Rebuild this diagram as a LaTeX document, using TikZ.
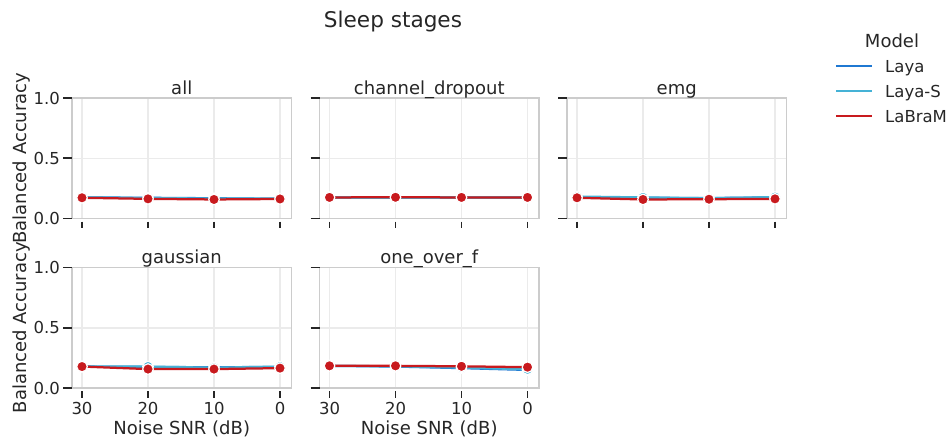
\documentclass[tikz,border=0pt]{standalone}
\usepackage{fontspec}
\setmainfont{DejaVu Sans}
\usepackage{xcolor}
\definecolor{ink}{HTML}{262626}
\definecolor{layablue}{HTML}{1F78D2}
\definecolor{layasblue}{HTML}{45B2D6}
\definecolor{labramred}{HTML}{C81A1E}
\definecolor{framegray}{HTML}{CCCCCC}
\definecolor{gridgray}{HTML}{EBEBEB}
\tikzset{
    panel-frame/.style = {draw=framegray, line width=1.9pt},
    grid-line/.style = {draw=gridgray, line width=1.5pt},
    tick-mark/.style = {draw=ink, line width=1.9pt},
    tick-label/.style = {text=ink, font=\fontsize{16.5}{18}\selectfont, inner sep=0pt},
    axis-label/.style = {text=ink, font=\fontsize{18}{20}\selectfont, inner sep=0pt},
    series/.style = {draw=#1, line width=2.25pt, line join=round},
    dot/.style = {fill=#1, draw=white, line width=1.2pt},
}
% one facet: #1 name, #2 left, #3 top, #4 title
\newcommand{\snrpanel}[4]{%
    \foreach \k in {0,...,3}
        \draw[grid-line] (#2+10+66*\k,#3) -- (#2+10+66*\k,#3+120.5);
    \draw[grid-line] (#2,#3+60.25) -- (#2+219.5,#3+60.25);
    \draw[panel-frame] (#2,#3) rectangle (#2+219.5,#3+120.5);
    \foreach \k in {0,...,3}
        \draw[tick-mark] (#2+10+66*\k,#3+123.5) -- (#2+10+66*\k,#3+130);
    \foreach \v in {0,0.5,1}
        \draw[tick-mark] (#2-9,{#3+120.5*(1-\v)}) -- (#2,{#3+120.5*(1-\v)});
    \node[axis-label, anchor=base] (#1-title) at (#2+109.75,#3-4) {#4};
}
% one model: #1 left, #2 top, #3 colour, #4-#7 values at 30, 20, 10, 0 dB
\newcommand{\snrline}[7]{%
    \draw[series=#3] (#1+10,{#2+120.5*(1-#4)}) -- (#1+76,{#2+120.5*(1-#5)})
        -- (#1+142,{#2+120.5*(1-#6)}) -- (#1+208,{#2+120.5*(1-#7)});
    \foreach \v [count=\k from 0] in {#4,#5,#6,#7}
        \path[dot=#3] (#1+10+66*\k,{#2+120.5*(1-\v)}) circle[radius=5.3pt];
}

\begin{document}
\begin{tikzpicture}[x=1pt, y=-1pt]
\useasboundingbox (0,0) rectangle (952,444);

\node[axis-label, font=\fontsize{21.6}{24}\selectfont, anchor=base] (suptitle) at (393,27.3) {Sleep stages};

% facets
\snrpanel{all}{72}{98}{all}
\snrpanel{chan}{319.5}{98}{channel\_dropout}
\snrpanel{emg}{567}{98}{emg}
\snrpanel{gauss}{72}{267.5}{gaussian}
\snrpanel{pink}{319.5}{267.5}{one\_over\_f}

% data
\snrline{72}{98}{layablue}{0.175}{0.172}{0.168}{0.163}
\snrline{72}{98}{layasblue}{0.175}{0.170}{0.165}{0.165}
\snrline{72}{98}{labramred}{0.172}{0.163}{0.158}{0.162}
\snrline{319.5}{98}{layablue}{0.175}{0.175}{0.175}{0.175}
\snrline{319.5}{98}{layasblue}{0.175}{0.175}{0.175}{0.175}
\snrline{319.5}{98}{labramred}{0.175}{0.176}{0.175}{0.175}
\snrline{567}{98}{layablue}{0.178}{0.172}{0.170}{0.175}
\snrline{567}{98}{layasblue}{0.182}{0.175}{0.168}{0.178}
\snrline{567}{98}{labramred}{0.172}{0.158}{0.160}{0.163}
\snrline{72}{267.5}{layablue}{0.178}{0.175}{0.172}{0.175}
\snrline{72}{267.5}{layasblue}{0.178}{0.178}{0.168}{0.178}
\snrline{72}{267.5}{labramred}{0.178}{0.157}{0.157}{0.165}
\snrline{319.5}{267.5}{layablue}{0.184}{0.178}{0.165}{0.150}
\snrline{319.5}{267.5}{layasblue}{0.184}{0.180}{0.170}{0.155}
\snrline{319.5}{267.5}{labramred}{0.184}{0.184}{0.180}{0.173}

% y tick labels
\foreach \r/\t in {r1/98, r2/267.5}{
    \node[tick-label, anchor=east] (\r-y0) at (60,\t+120.5) {0.0};
    \node[tick-label, anchor=east] (\r-y5) at (60,\t+60.25) {0.5};
    \node[tick-label, anchor=east] (\r-y10) at (60,\t) {1.0};
    \node[axis-label, rotate=90, anchor=base] (\r-ylabel) at (26.5,\t+60.25) {Balanced Accuracy};
}

% x tick labels
\foreach \p/\l in {gauss/72, pink/319.5}{
    \foreach \s [count=\k from 0] in {30,20,10,0}
        \node[tick-label, anchor=base] (\p-x\s) at (\l+10+66*\k,414) {\s};
    \node[axis-label, anchor=base] (\p-xlabel) at (\l+109.75,434) {Noise SNR (dB)};
}

% legend
\node[axis-label, anchor=base] (legend-title) at (892,47.3) {Model};
\foreach \m/\c/\y [count=\i] in {Laya/layablue/66, Laya-S/layasblue/91, LaBraM/labramred/116}{
    \draw[series=\c] (836,\y) -- (871.5,\y);
    \node[tick-label, anchor=base west] (legend-\i) at (885,\y+6.8) {\m};
}
\end{tikzpicture}
\end{document}
